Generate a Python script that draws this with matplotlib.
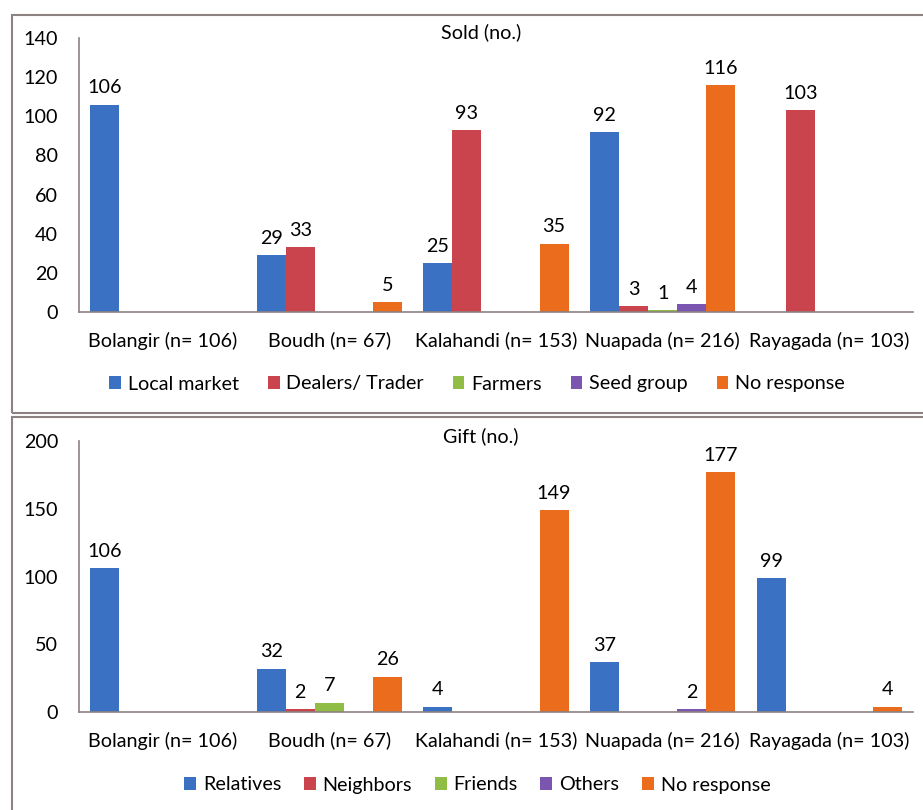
import matplotlib.pyplot as plt
import numpy as np
from matplotlib.patches import Rectangle

plt.rcParams['font.family'] = ['Lato', 'DejaVu Sans']

districts = ['Bolangir (n= 106)', 'Boudh (n= 67)', 'Kalahandi (n= 153)',
             'Nuapada (n= 216)', 'Rayagada (n= 103)']

sold_names = ['Local market', 'Dealers/ Trader', 'Farmers', 'Seed group', 'No response']
sold_local = [106, 29, 25, 92, 0]
sold_dealers = [0, 33, 93, 3, 103]
sold_farmers = [0, 0, 0, 1, 0]
sold_seed = [0, 0, 0, 4, 0]
sold_noresp = [0, 5, 35, 116, 0]

gift_names = ['Relatives', 'Neighbors', 'Friends', 'Others', 'No response']
gift_relatives = [106, 32, 4, 37, 99]
gift_neighbors = [0, 2, 0, 0, 0]
gift_friends = [0, 7, 0, 0, 0]
gift_others = [0, 0, 0, 2, 0]
gift_noresp = [0, 26, 149, 177, 4]

colors = ['#3b71c2', '#c9444c', '#8fbd45', '#7a56b0', '#ea6c1c']

fig = plt.figure(figsize=(9.23, 8.10), dpi=100)

# panel frames
W, H = 923, 810
for y0, y1 in [(15, 413), (417, 815)]:
    fig.add_artist(Rectangle((12 / W, 1 - y1 / H), (935 - 12) / W, (y1 - y0) / H,
                             transform=fig.transFigure, fill=False,
                             edgecolor='#8c8282', linewidth=1.5, clip_on=False))

FS = 14.2


def panel(rect, series, names, ymax, ystep, title, title_y, leg_y, colsp):
    ax = fig.add_axes(rect)
    x = np.arange(len(districts))
    n = len(series)
    bw = 1 / (n + 0.75)
    handles = []
    for i, vals in enumerate(series):
        pos = x - 0.5 + bw * 0.375 + bw * (i + 0.5)
        bars = ax.bar(pos, vals, width=bw, color=colors[i], label=names[i])
        handles.append(bars)
        for p, v in zip(pos, vals):
            if v > 0:
                ax.annotate(str(v), (p, v), xytext=(0, 6), textcoords='offset points',
                            ha='center', va='bottom', fontsize=FS)
    ax.set_xlim(-0.5, len(districts) - 0.5)
    ax.set_ylim(0, ymax)
    ax.set_yticks(np.arange(0, ymax + 1, ystep))
    ax.set_xticks(x)
    ax.set_xticklabels(districts)
    ax.tick_params(axis='y', length=0, pad=15, labelsize=FS)
    ax.tick_params(axis='x', length=0, pad=14, labelsize=FS)
    for s in ['top', 'right']:
        ax.spines[s].set_visible(False)
    for s in ['left', 'bottom']:
        ax.spines[s].set_color('#8c8282')
        ax.spines[s].set_linewidth(1.2)
    fig.text(481 / W, title_y, title, ha='center', va='center', fontsize=FS)
    fig.legend(handles=handles, loc='center', bbox_to_anchor=(0.517, leg_y), ncol=5,
               frameon=False, fontsize=FS, handlelength=0.6, handleheight=0.6,
               handletextpad=0.35, columnspacing=colsp)
    return ax


panel([79 / W, 1 - 312 / H, (913 - 79) / W, (312 - 38) / H],
      [sold_local, sold_dealers, sold_farmers, sold_seed, sold_noresp],
      sold_names, 140, 20, 'Sold (no.)', 1 - 32 / H, 1 - 384 / H, 1.45)

panel([79 / W, 1 - 712 / H, (913 - 79) / W, (712 - 441) / H],
      [gift_relatives, gift_neighbors, gift_friends, gift_others, gift_noresp],
      gift_names, 200, 50, 'Gift (no.)', 1 - 436 / H, 1 - 785 / H, 1.15)

fig.savefig('out.png', dpi=100)
